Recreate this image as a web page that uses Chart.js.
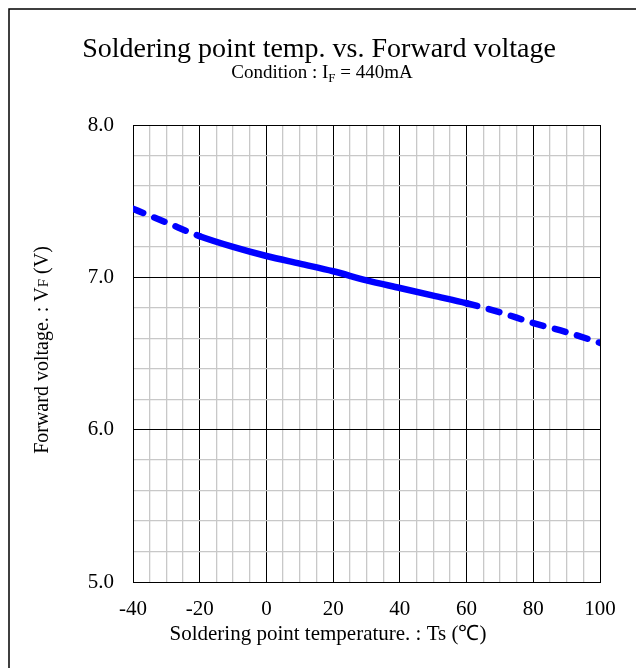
<!DOCTYPE html>
<html>
<head>
<meta charset="utf-8">
<script src="https://cdn.jsdelivr.net/npm/chart.js@4.4.1/dist/chart.umd.min.js"></script>
<style>
  html, body { margin: 0; padding: 0; background: #fff; }
  #wrap { width: 636px; height: 668px; position: relative; }
</style>
</head>
<body>
<div id="wrap"><canvas id="VfChart" width="636" height="668"></canvas></div>
<script>
// temperature (degC) and forward voltage (V)
var temps = [-40, -30, -20, -10, 0, 10, 20, 30, 40, 50, 60, 70, 80, 90, 100];
var volts = [7.45, 7.36, 7.27, 7.20, 7.14, 7.09, 7.04, 6.98, 6.93, 6.88, 6.83, 6.77, 6.70, 6.64, 6.57];
// solid between these, dashed outside
var solidFrom = -20;
var solidTo = 60;
var xTicks = [-40, -20, 0, 20, 40, 60, 80, 100];
var yTicks = [5.0, 6.0, 7.0, 8.0];

var serif = "'Liberation Serif', 'Times New Roman', serif";

var points = [];
for (var i = 0; i < temps.length; i++) {
	points.push({x: temps[i], y: volts[i]});
}

function isMajorX(v) { return xTicks.indexOf(Math.round(v)) >= 0; }
function isMajorY(v) {
	for (var k = 0; k < yTicks.length; k++) { if (Math.abs(v - yTicks[k]) < 0.001) return true; }
	return false;
}

// text made of parts (for the small F), centred on x
function drawParts(ctx, parts, x, y) {
	var w = 0;
	parts.forEach(function (p) {
		ctx.font = p.size + "px " + serif;
		w += ctx.measureText(p.t).width;
	});
	var cx = x - w / 2;
	parts.forEach(function (p) {
		ctx.font = p.size + "px " + serif;
		ctx.fillText(p.t, cx, y + (p.dy || 0));
		cx += ctx.measureText(p.t).width;
	});
}

var decor = {
	id: 'decor',
	afterDraw: function (chart) {
		var ctx = chart.ctx;
		ctx.save();
		// frame
		ctx.strokeStyle = "#000";
		ctx.lineWidth = 1.5;
		ctx.beginPath();
		ctx.moveTo(9, 668);
		ctx.lineTo(9, 9);
		ctx.lineTo(636, 9);
		ctx.stroke();

		ctx.fillStyle = "#000";
		ctx.textBaseline = "alphabetic";
		ctx.textAlign = "left";
		drawParts(ctx, [{t: "Soldering point temp. vs. Forward voltage", size: 28}], 319, 57);
		drawParts(ctx, [
			{t: "Condition : I", size: 19},
			{t: "F", size: 13, dy: 4},
			{t: " = 440mA", size: 19}
		], 322, 78);

		drawParts(ctx, [{t: "Soldering point temperature. : Ts (\u2103)", size: 21}], 328, 640);

		ctx.translate(48, 350);
		ctx.rotate(-Math.PI / 2);
		drawParts(ctx, [
			{t: "Forward voltage. : V", size: 20},
			{t: "F", size: 15},
			{t: " (V)", size: 20}
		], 0, 0);
		ctx.restore();
	}
};

new Chart("VfChart", {
	type: 'line',
	data: {
		datasets: [{
			data: points,
			borderColor: "#0000ff",
			borderWidth: 6.5,
			borderCapStyle: 'round',
			borderJoinStyle: 'round',
			pointRadius: 0,
			cubicInterpolationMode: 'monotone',
			fill: false,
			segment: {
				borderDash: function (c) {
					var a = c.p0.parsed.x, b = c.p1.parsed.x;
					return (a >= solidFrom && b <= solidTo) ? undefined : [11, 12];
				}
			}
		}]
	},
	options: {
		responsive: false,
		animation: false,
		layout: { padding: { top: 125, right: 36, bottom: 0, left: 0 } },
		plugins: { legend: { display: false }, tooltip: { enabled: false }, title: { display: false } },
		scales: {
			x: {
				type: 'linear',
				min: -40,
				max: 100,
				afterFit: function (s) { s.height = 86; },
				border: { display: true, color: "#000", width: 1 },
				grid: {
					drawTicks: false,
					color: function (c) { return isMajorX(c.tick.value) ? "#000" : "#c8c8c8"; },
					lineWidth: function (c) { return isMajorX(c.tick.value) ? 1 : 1.3; }
				},
				ticks: {
					stepSize: 5,
					autoSkip: false,
					maxRotation: 0,
					padding: 15,
					color: "#000",
					font: { family: serif, size: 21 },
					callback: function (v) { return isMajorX(v) ? String(Math.round(v)) : ''; }
				}
			},
			y: {
				type: 'linear',
				min: 5,
				max: 8,
				afterFit: function (s) { s.width = 133; },
				border: { display: true, color: "#000", width: 1 },
				grid: {
					drawTicks: false,
					color: function (c) { return isMajorY(c.tick.value) ? "#000" : "#c8c8c8"; },
					lineWidth: function (c) { return isMajorY(c.tick.value) ? 1 : 1.3; }
				},
				ticks: {
					stepSize: 0.2,
					autoSkip: false,
					padding: 19,
					color: "#000",
					font: { family: serif, size: 21 },
					callback: function (v) { return isMajorY(v) ? v.toFixed(1) : ''; }
				}
			}
		}
	},
	plugins: [decor]
});
</script>
</body>
</html>
